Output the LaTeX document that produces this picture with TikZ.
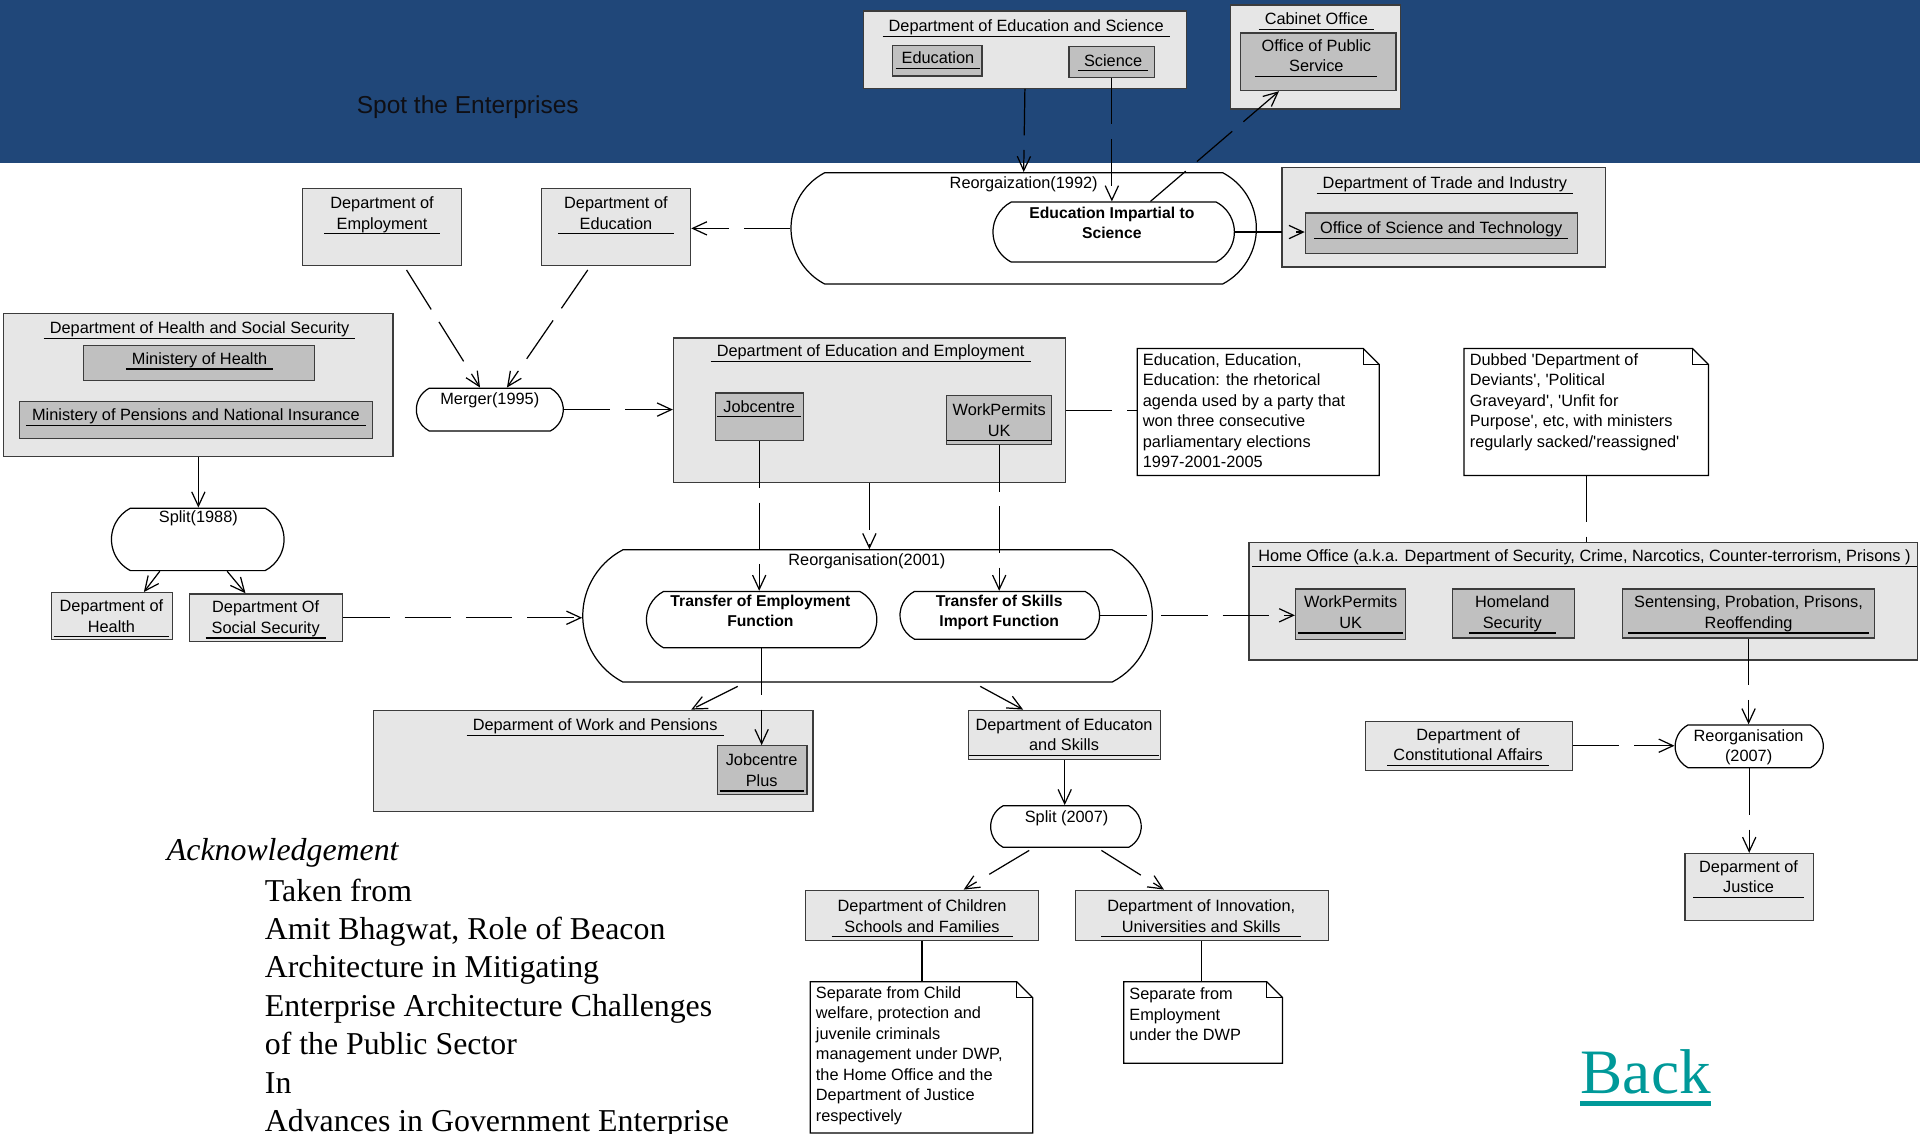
\documentclass[tikz,border=0pt]{standalone}
\usepackage{fontspec}
\setmainfont{Liberation Serif}
\newfontfamily\diagfont{Liberation Sans}
\usetikzlibrary{arrows.meta,calc,fit,shapes.misc}
\definecolor{bandblue}{RGB}{32,71,121}
\definecolor{boxgray}{RGB}{230,230,230}
\definecolor{partgray}{RGB}{192,192,192}
\definecolor{edgegray}{RGB}{60,60,60}
\definecolor{backteal}{RGB}{0,153,153}
\definecolor{titleink}{RGB}{15,15,20}
\setlength{\arrayrulewidth}{0.6pt}
\newcommand\uname[1]{\begin{tabular}[t]{@{\hspace{3pt}}c@{\hspace{3pt}}}#1\\[-1pt]\hline\end{tabular}}
\newcommand\ctext[1]{\begin{tabular}[t]{@{}c@{}}#1\end{tabular}}
\newcommand\ltext[1]{\begin{tabular}[t]{@{}l@{}}#1\end{tabular}}
\newcommand\dogear[1]{%
  \draw[fill=white, line width=0.6pt] (#1.north west) -- ($(#1.north east)+(-13,0)$) -- ($(#1.north east)+(0,13)$) -- (#1.south east) -- (#1.south west) -- cycle;
  \draw[line width=0.6pt] ($(#1.north east)+(-13,0)$) -- ($(#1.north east)+(-13,13)$) -- ($(#1.north east)+(0,13)$);}
\tikzstyle{dept} = [draw=edgegray, fill=boxgray, rectangle, inner sep=0pt, line width=0.6pt]
\tikzstyle{unit} = [dept, fill=partgray]
\tikzstyle{event} = [draw, fill=white, rounded rectangle, rounded rectangle arc length=125, inner sep=0pt, line width=0.6pt]
\tikzstyle{memo} = [inner sep=0pt]
\tikzstyle{txt} = [font=\diagfont\fontsize{8}{10}\selectfont, inner sep=0pt, anchor=base]
\tikzstyle{btxt} = [font=\diagfont\bfseries\fontsize{7.7}{9.6}\selectfont, inner sep=0pt, anchor=base]
\tikzstyle{line} = [draw, line width=0.6pt, dash pattern=on 22.8pt off 7.2pt]
\tikzstyle{dep} = [line, -{Straight Barb[length=7pt,width=6.5pt]}]

\begin{document}
\begin{tikzpicture}[x=0.6pt, y=-0.6pt]
        \useasboundingbox (0,0) rectangle (1568,926);
        \fill[bandblue] (0,0) rectangle (1568,133);
        \node[font=\diagfont\fontsize{12}{14}\selectfont, text=titleink, inner sep=0pt, anchor=base] (title) at (382,93) {Spot the Enterprises};
        % 1992
        \node[dept, fit={(705,9) (969,72)}] (des) {};
        \node[txt] (des-t) at (838,26) {\uname{Department of Education and Science}};
        \node[unit, fit={(729,37) (802,62)}] (edu) {};
        \node[txt] (edu-t) at (766,52) {\uname{Education}};
        \node[unit, fit={(873,38) (943,63)}] (sci) {};
        \node[txt] (sci-t) at (909,54) {\uname{Science}};
        \node[dept, fit={(1005,4) (1144,89)}] (cab) {};
        \node[txt] (cab-t) at (1075,20) {\uname{Cabinet Office}};
        \node[unit, fit={(1013,27) (1140,74)}] (ops) {};
        \node[txt] (ops-t) at (1075,42) {\uname{Office of Public\\Service}};
        \node[dept, fit={(1047,137) (1311,218)}] (trade) {};
        \node[txt] (trade-t) at (1180,154) {\uname{Department of Trade and Industry}};
        \node[unit, fit={(1066,174) (1288,207)}] (ost) {};
        \node[txt] (ost-t) at (1177,191) {\uname{Office of Science and Technology}};
        \node[event, fit={(673.6,141) (998.4,232)}] (reorg92) {};
        \node[txt] (reorg92-t) at (836,154) {\ctext{Reorgaization(1992)}};
        \node[event, fit={(825.8,165) (993.2,214)}] (eis) {};
        \node[btxt] (eis-t) at (908,178.5) {\ctext{Education Impartial to\\Science}};
        \node[dept, fit={(247,154) (377,217)}] (doe) {};
        \node[txt] (doe-t) at (312,170.5) {\uname{Department of\\Employment}};
        \node[dept, fit={(442,154) (564,217)}] (doed) {};
        \node[txt] (doed-t) at (503,170.5) {\uname{Department of\\Education}};
        % 1988 and 1995
        \node[dept, fit={(3,256) (321,373)}] (dhss) {};
        \node[txt] (dhss-t) at (163,272.5) {\uname{Department of Health and Social Security}};
        \node[unit, fit={(68,282) (257,311)}] (moh) {};
        \node[txt] (moh-t) at (163,297.5) {\uname{Ministery of Health}};
        \node[unit, fit={(16,328) (304,358)}] (mopni) {};
        \node[txt] (mopni-t) at (160,343.5) {\uname{Ministery of Pensions and National Insurance}};
        \node[event, fit={(106.5,415) (216.5,466)}] (split88) {};
        \node[txt] (split88-t) at (162,426.5) {\ctext{Split(1988)}};
        \node[dept, fit={(42,484) (141,522)}] (doh) {};
        \node[txt] (doh-t) at (91,499.5) {\uname{Department of\\Health}};
        \node[dept, fit={(155,485) (280,524)}] (dss) {};
        \node[txt] (dss-t) at (217,500.5) {\uname{Department Of\\Social Security}};
        \node[event, fit={(350.6,317) (449.4,352)}] (merger) {};
        \node[txt] (merger-t) at (400,330.5) {\ctext{Merger(1995)}};
        \node[dept, fit={(550,276) (870,394)}] (dee) {};
        \node[txt] (dee-t) at (711,291.5) {\uname{Department of Education and Employment}};
        \node[unit, fit={(584,321) (656,360)}] (jc) {};
        \node[txt] (jc-t) at (620,336.5) {\uname{Jobcentre}};
        \node[unit, fit={(773,323) (859,363)}] (wp1) {};
        \node[txt] (wp1-t) at (816,339.5) {\uname{WorkPermits\\UK}};
        \node[memo, fit={(929,285) (1126,388)}] (note1) {};
        \dogear{note1}
        \node[txt, anchor=base west] (note1-t) at (933,298.5) {\ltext{Education, Education,\\Education: the rhetorical\\agenda used by a party that\\won three consecutive\\parliamentary elections\\1997-2001-2005}};
        \node[memo, fit={(1196,285) (1395,388)}] (note2) {};
        \dogear{note2}
        \node[txt, anchor=base west] (note2-t) at (1200,298.5) {\ltext{Dubbed 'Department of\\Deviants', 'Political\\Graveyard', 'Unfit for\\Purpose', etc, with ministers\\regularly sacked/'reassigned'}};
        % 2001
        \node[event, fit={(508.7,449) (908.3,557)}] (reorg01) {};
        \node[txt] (reorg01-t) at (708,461.5) {\ctext{Reorganisation(2001)}};
        \node[event, fit={(541.9,483) (702.1,529)}] (tef) {};
        \node[btxt] (tef-t) at (621,495.5) {\ctext{Transfer of Employment\\Function}};
        \node[event, fit={(746.8,483) (886.2,522)}] (tsif) {};
        \node[btxt] (tsif-t) at (816,495.5) {\ctext{Transfer of Skills\\Import Function}};
        \node[dept, fit={(1020,443) (1566,539)}] (ho) {};
        \node[txt] (ho-t) at (1294,458.5) {\uname{Home Office (a.k.a. Department of Security, Crime, Narcotics, Counter-terrorism, Prisons )}};
        \node[unit, fit={(1058,481) (1148,522)}] (wp2) {};
        \node[txt] (wp2-t) at (1103,496.5) {\uname{WorkPermits\\UK}};
        \node[unit, fit={(1186,481) (1286,521)}] (hs) {};
        \node[txt] (hs-t) at (1235,496.5) {\uname{Homeland\\Security}};
        \node[unit, fit={(1325,481) (1531,521)}] (sent) {};
        \node[txt] (sent-t) at (1428,496.5) {\uname{Sentensing, Probation, Prisons,\\Reoffending}};
        \node[dept, fit={(305,580) (664,663)}] (dwp) {};
        \node[txt] (dwp-t) at (486,596.5) {\uname{Deparment of Work and Pensions}};
        \node[unit, fit={(586,609) (659,649)}] (jcp) {};
        \node[txt] (jcp-t) at (622,625.5) {\uname{Jobcentre\\Plus}};
        \node[dept, fit={(791,580) (948,620)}] (dfes) {};
        \node[txt] (dfes-t) at (869,596.5) {\uname{Department of Educaton\\and Skills}};
        % 2007
        \node[event, fit={(819.3,658) (921.7,692)}] (split07) {};
        \node[txt] (split07-t) at (871,671.5) {\ctext{Split (2007)}};
        \node[dept, fit={(658,727) (848,768)}] (dcsf) {};
        \node[txt] (dcsf-t) at (753,744.5) {\uname{Department of Children\\Schools and Families}};
        \node[dept, fit={(878,727) (1085,768)}] (dius) {};
        \node[txt] (dius-t) at (981,744.5) {\uname{Department of Innovation,\\Universities and Skills}};
        \node[memo, fit={(662,802) (843,925)}] (note3) {};
        \dogear{note3}
        \node[txt, anchor=base west] (note3-t) at (666,815.5) {\ltext{Separate from Child\\welfare, protection and\\juvenile criminals\\management under DWP,\\the Home Office and the\\Department of Justice\\respectively}};
        \node[memo, fit={(918,802) (1047,868)}] (note4) {};
        \dogear{note4}
        \node[txt, anchor=base west] (note4-t) at (922,816.5) {\ltext{Separate from\\Employment\\under the DWP}};
        \node[dept, fit={(1115,589) (1284,629)}] (dca) {};
        \node[txt] (dca-t) at (1199,604.5) {\uname{Department of\\Constitutional Affairs}};
        \node[event, fit={(1378.6,592) (1478.4,627)}] (reorg07) {};
        \node[txt] (reorg07-t) at (1428,605.5) {\ctext{Reorganisation\\(2007)}};
        \node[dept, fit={(1376,697) (1481,752)}] (justice) {};
        \node[txt] (justice-t) at (1428,712.5) {\uname{Deparment of\\Justice}};
        % connectors
        \path[dep] (des.south) -- (reorg92.north);
        \path[dep] (sci.south) -- (sci.south |- eis.north);
        \path[dep] ($(eis.north)+(30,0)$) -- ($(ops.south)+(-32,0)$);
        \path[dep] (eis.east) -- (eis.east -| ost.west);
        \path[dep] (reorg92.west) -- (reorg92.west -| doed.east);
        \path[dep] ($(doe.south)+(20,3)$) -- ($(merger.north)+(-8,0)$);
        \path[dep] ($(doed.south)+(-23,3)$) -- ($(merger.north)+(14,0)$);
        \path[dep] (merger.east) -- (merger.east -| dee.west);
        \path[dep] (dhss.south) -- (dhss.south |- split88.north);
        \path[dep] ($(split88.south)+(-31,0)$) -- ($(doh.north)+(26,0)$);
        \path[dep] ($(split88.south)+(24,0)$) -- ($(dss.north)+(-17,0)$);
        \path[dep] (dss.east) -- (dss.east -| reorg01.west);
        \path[dep] (jc.south) -- (jc.south |- tef.north);
        \path[dep] (dee.south) -- (dee.south |- reorg01.north);
        \path[dep] (wp1.south) -- (wp1.south |- tsif.north);
        \path[dep] (tsif.east) -- (tsif.east -| wp2.west);
        \path[line] (dee.east) -- (dee.east -| note1.west);
        \path[line] (note2.south) -- (note2.south |- ho.north);
        \path[dep] (sent.south) -- (sent.south |- reorg07.north);
        \path[dep] (dca.east) -- (dca.east -| reorg07.west);
        \path[dep] (reorg07.south) -- (reorg07.south |- justice.north);
        \path[dep] ($(reorg01.south)+(-106,3)$) -- ($(dwp.north)+(80,0)$);
        \path[dep] (tef.south) -- (tef.south |- jcp.north);
        \path[dep] ($(reorg01.south)+(92,3)$) -- ($(dfes.north)+(-34,0)$);
        \path[dep] (dfes.south) -- (dfes.south |- split07.north);
        \path[dep] ($(split07.south)+(-30,2)$) -- ($(dcsf.north)+(34,0)$);
        \path[dep] ($(split07.south)+(29,2)$) -- ($(dius.north)+(-31,0)$);
        \path[line, solid] (dcsf.south) -- (dcsf.south |- note3.north);
        \path[line, solid] (dius.south) -- (dius.south |- note4.north);
        % acknowledgement
        \node[font=\itshape\fontsize{15.6}{18.8}\selectfont, inner sep=0pt, anchor=base west] (ack) at (136,703) {Acknowledgement};
        \node[font=\fontsize{15.6}{18.8}\selectfont, inner sep=0pt, anchor=base west] (ack-t) at (216,736) {\ltext{Taken from\\Amit Bhagwat, Role of Beacon\\Architecture in Mitigating\\Enterprise Architecture Challenges\\of the Public Sector\\In\\Advances in Government Enterprise}};
        \node[font=\fontsize{31}{36}\selectfont, text=backteal, inner sep=0pt, anchor=base] (back) at (1344,893) {Back};
        \draw[backteal, line width=2.2pt] ($(back.base west)+(0,8)$) -- ($(back.base east)+(0,8)$);
    \end{tikzpicture}
\end{document}
